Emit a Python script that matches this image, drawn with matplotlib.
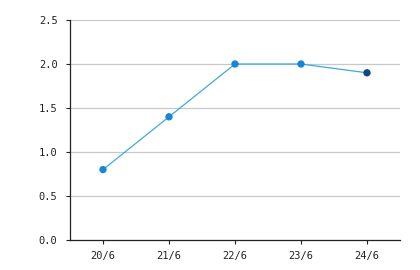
import matplotlib
matplotlib.use("Agg")
import matplotlib.pyplot as plt

# donnees
dates = ["20/6", "21/6", "22/6", "23/6", "24/6"]
valeurs = [0.8, 1.4, 2.0, 2.0, 1.9]
couleurs_points = ["#1587d6", "#1587d6", "#1587d6", "#1587d6", "#0d4a8c"]
yticks = [0.0, 0.5, 1.0, 1.5, 2.0, 2.5]

plt.rcParams['font.family'] = ['DejaVu Sans Mono']

fig = plt.figure(figsize=(4.2, 2.7), dpi=100)
ax = fig.add_axes([70/420, 30/270, 330/420, 220/270])

x = list(range(len(dates)))
ax.plot(x, valeurs, color="#3ea6e6", lw=0.9, zorder=3)
ax.scatter(x, valeurs, c=couleurs_points, s=28, zorder=4, linewidths=0)

ax.set_xlim(-0.5, len(dates) - 0.5)
ax.set_ylim(0, 2.5)
ax.set_xticks(x)
ax.set_xticklabels(dates)
ax.set_yticks(yticks)
ax.set_yticklabels(["%.1f" % v for v in yticks])
ax.yaxis.grid(True, color="#c8c8c8", lw=0.9)
ax.set_axisbelow(True)

for s in ["top", "right"]:
    ax.spines[s].set_visible(False)
for s in ["left", "bottom"]:
    ax.spines[s].set_color("#222222")
    ax.spines[s].set_linewidth(0.9)

ax.tick_params(axis="both", labelsize=7.5, colors="#222222", length=3, width=0.8)
ax.tick_params(axis="y", pad=6)
ax.tick_params(axis="x", pad=5)

plt.savefig("out.png", dpi=100)
